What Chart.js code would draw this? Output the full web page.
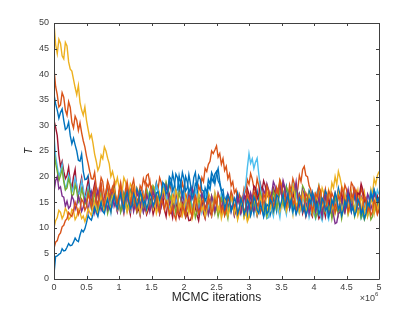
<!DOCTYPE html>
<html>
<head>
<meta charset="utf-8">
<script src="https://cdn.jsdelivr.net/npm/chart.js@4"></script>
<style>
  html, body { margin: 0; padding: 0; background: #fff; }
  #traceChart { display: block; }
</style>
</head>
<body>
<canvas id="traceChart" width="419" height="314"></canvas>
<script>
// iterations run 0 .. 5 (x10^6), one stored sample every 0.025
var xMax = 5;
var xTicks = [0, 0.5, 1, 1.5, 2, 2.5, 3, 3.5, 4, 4.5, 5];
var yTicks = [0, 5, 10, 15, 20, 25, 30, 35, 40, 45, 50];

// ten chains, values (20 samples per 0.5)
var chain1 = [1, 4.4, 4.5, 4.8, 5, 5.9, 5.5, 5.6, 6.2, 6.9, 6.5, 6.6, 7.2, 8, 7.5, 7.3, 8.6, 9.6, 9.2, 9.8,
  11, 12.4, 11.8, 11.5, 12.6, 14, 13, 12.2, 13.8, 15, 13.2, 12.8, 14.5, 15.6, 14, 13.2, 15.2, 16.3, 14.6, 13.8,
  15.5, 16.8, 14.8, 13.6, 16, 17, 15.2, 13.8, 14.4, 16.6, 15.8, 14.2, 15, 17.2, 16.2, 14.5, 15.4, 13.6, 14.8, 16.8,
  16, 14.2, 15.2, 16.8, 17, 15.5, 16.4, 18.8, 18.5, 16.6, 17.2, 20, 19.5, 17.2, 18, 20.5, 19.8, 17.5, 18.6, 16.2,
  17.5, 20, 19, 16.8, 17.8, 15.6, 16.5, 18.6, 18, 20.2, 19.5, 17.4, 17.2, 15.2, 16, 18.2, 17.5, 19.8, 19, 20.5,
  21, 19.2, 18.5, 17.2, 16, 13.8, 14.8, 16.4, 15.5, 13.2, 14.2, 15.8, 15, 12.8, 13.8, 15.6, 14.6, 12.6, 13.5, 15.4,
  14.8, 12.4, 13.6, 16, 15.2, 13.4, 12.8, 14.8, 13.5, 12.2, 14.6, 12.8, 13.2, 15.6, 15, 13.2, 14.2, 16.4, 16, 14,
  15.2, 16.6, 14, 15.4, 16.5, 14.2, 15.5, 13.2, 14.2, 12.6, 13.6, 15.8, 15, 13.2, 14.4, 12.4, 13.5, 15.6, 14.8, 17,
  16, 13.8, 14.8, 12.6, 13.6, 15.8, 15.2, 13.4, 14, 12.2, 13.2, 15.4, 14.6, 16.8, 15.8, 13.6, 14.4, 12.4, 13.5, 15.2,
  14.2, 16.4, 15.5, 13.2, 14, 12.4, 13.2, 15.6, 14.8, 12.6, 13.8, 11.8, 12.8, 15, 14.2, 16.8, 15.6, 17.4, 16.5, 15,
  16];
var chain2 = [6, 7.2, 7.5, 8.6, 9, 10.2, 10.5, 11.4, 11.8, 13, 12.5, 12.2, 13.4, 15, 14, 12.6, 13.5, 15.6, 15, 13.4,
  14.2, 16.6, 15.5, 14, 16.5, 17.8, 15, 14.2, 16.8, 18.2, 15.5, 14.4, 17.2, 18.5, 16, 17, 18, 16.8, 15.8, 14.4,
  17, 18.4, 15.5, 14.2, 16.8, 18, 15, 13.8, 16.5, 17.6, 14.5, 13.4, 15.8, 17.2, 17.5, 15.4, 16.2, 18.6, 18, 19.2,
  16.5, 14.2, 15, 16.4, 14.2, 13, 15.8, 14.6, 13.5, 15.2, 14.5, 12.6, 13, 14.2, 12.5, 11.6, 13.8, 12.6, 12.2, 14.4,
  13.5, 12.4, 14.8, 15.8, 13.2, 12.2, 15, 16.2, 14.2, 12.8, 13.5, 15, 15.5, 13.6, 14, 16, 15, 12.8, 13.8, 15.6,
  14.5, 16.6, 15.8, 13.2, 14.2, 12.4, 13.5, 15.8, 15, 17.2, 16.2, 14, 14.8, 12.6, 13.6, 16, 15.2, 13, 14, 16.8,
  15.5, 13.4, 14.2, 17, 16.5, 14.2, 15, 13, 14, 16.6, 15.8, 18.2, 17.2, 15.2, 16, 14, 15, 17.6, 16.8, 19.2,
  18, 16, 16.5, 14.2, 15.2, 17.6, 16.8, 14.6, 15.5, 13.2, 14.2, 16.4, 15.8, 13.4, 14.5, 16.8, 16, 14, 15.2, 13.2,
  14.5, 16.6, 16, 18, 17.2, 14.8, 15.5, 13.6, 14.8, 17.2, 16.5, 14.2, 15.2, 13, 14, 16.2, 15.5, 17.8, 16.8, 14.8,
  15.5, 13.2, 14.2, 16.6, 15.8, 17.6, 16.8, 14.4, 15, 13, 14, 16.2, 15.5, 13.2, 14.2, 12.4, 13.2, 15.4, 14.5, 12.6,
  13.5];
var chain3 = [10, 11.4, 12, 13.4, 13, 11.8, 12.5, 13.8, 13.2, 11.6, 12, 13.6, 13.3, 11.6, 12.2, 13.6, 13, 11.8, 12.3, 11.2,
  12.2, 13.8, 13, 12.4, 14, 15.2, 13.5, 12.6, 14.8, 16, 14, 13.2, 15.5, 16.6, 14.6, 13.4, 16, 17.2, 15, 13.6,
  14.8, 17, 16.2, 14, 15, 13, 14.2, 16.6, 15.8, 18, 16.8, 14.6, 15, 12.8, 14, 16.4, 15.5, 13.2, 14.6, 17.2,
  16, 13.8, 15.2, 12.8, 14, 16.8, 15.5, 17.8, 16.8, 14.4, 15.2, 12.6, 14, 16.2, 15, 17.4, 16.2, 13.6, 14.8, 12.4,
  13.5, 15.8, 15, 12.8, 14.2, 11.8, 13, 15.4, 14.5, 16.8, 15.8, 13.4, 14.2, 12.2, 13.5, 15.8, 15, 12.6, 14, 16.4,
  15.5, 13.2, 14.2, 11.8, 13.2, 15.4, 14.8, 12.4, 13.5, 16, 15, 12.8, 14.2, 11.6, 13, 15.2, 14.5, 12, 13.2, 11.2,
  12, 14.2, 13.5, 15.8, 14.8, 12.6, 13.5, 16, 15, 12.8, 14, 17.2, 16, 13.6, 15, 13, 14.2, 16.8, 15.5, 13.2,
  14.5, 17, 15.8, 13.2, 14.2, 16.6, 15.5, 18.2, 16.8, 14.2, 15, 13, 14.2, 16.8, 15.5, 13.2, 14, 16.4, 15.2, 12.8,
  14, 16.6, 15.5, 18.2, 16.8, 14.2, 15.2, 13.2, 14.5, 17, 16, 13.6, 15, 12.8, 14, 16.8, 15.5, 13, 14.2, 16.6,
  15, 12.8, 14, 16.6, 15.6, 13.2, 14.5, 12.4, 13.8, 16, 15.2, 13, 14.5, 12.2, 13.6, 15.8, 14.8, 12.8, 15.5, 13.2,
  14.8];
var chain4 = [17, 19.2, 20, 17.6, 18, 16.2, 16, 14.2, 15.2, 13.8, 14.2, 16.2, 15.5, 13.6, 14.5, 16.2, 15.2, 13.2, 14, 15.8,
  14.8, 13.2, 15.6, 17, 14.5, 13, 16.2, 17.4, 15, 13.4, 14.2, 16.2, 15.8, 13.6, 14.8, 17.2, 16.5, 14.2, 15.2, 13.2,
  14.5, 16.8, 15.8, 13.4, 14.8, 17.2, 16.2, 14.2, 15.4, 13.2, 14.6, 16.8, 16, 13.8, 15.2, 13, 14, 16.4, 15.5, 13.2,
  14.6, 17.2, 16, 13.8, 15, 12.8, 14.2, 16.6, 15.8, 18.2, 16.8, 14.6, 15.2, 13, 14.4, 16.8, 15.6, 13.4, 14.8, 16.8,
  15.2, 13.2, 14.2, 16.6, 15.6, 17.6, 16.5, 14.2, 15, 12.8, 14.2, 16.8, 15.6, 13.4, 14.8, 12.6, 13.8, 16.2, 15.2, 13.2,
  14.5, 16.8, 15.8, 13.6, 15, 12.8, 14.2, 16.6, 15.5, 13.2, 14.8, 12.4, 13.6, 16, 15, 13, 14.2, 16.4, 15.5, 13.4,
  14.8, 16.8, 15.6, 13.4, 14.2, 12.4, 13.5, 15.8, 15, 17.4, 16.5, 18.6, 17.5, 15.6, 16.8, 19, 18.2, 16, 17, 18.8,
  16.5, 19.2, 18, 15.4, 16.2, 14, 15.5, 17.8, 17, 19, 16, 13.8, 15.2, 17.4, 16.5, 14.2, 15, 12.8, 14.2, 16.4,
  15.5, 13.2, 14.5, 16, 13.8, 12.2, 15, 16.2, 14.2, 12.6, 13.2, 14.4, 12.5, 10.8, 11, 12.8, 13, 15.6, 14.5, 13.2,
  15.8, 17.4, 14.5, 13.2, 16.5, 17.6, 15.2, 13.4, 14, 16.2, 15.5, 13.2, 14.2, 16.6, 15.8, 13.6, 14.8, 16.8, 15.5, 13.6,
  14.5];
var chain5 = [25, 22.6, 21, 19.2, 20.2, 21.4, 19, 17.4, 17.8, 19.6, 18.5, 16.2, 16.5, 18.4, 17.2, 15, 15.5, 17.6, 16.4, 14.6,
  15.2, 17.2, 16, 13.8, 14.8, 16.8, 15.6, 13.4, 14.5, 16.6, 15.8, 13.6, 15, 12.8, 14.2, 16.4, 15.5, 17.6, 16.2, 13.8,
  15, 13, 14.2, 16.6, 15.6, 13.6, 14.8, 17, 16, 13.8, 15.2, 13.2, 14.4, 16.8, 15.8, 13.4, 15, 17.4, 16.2, 14.2,
  15.5, 18, 17, 14.8, 16, 13.8, 15.2, 17.6, 16.5, 18.8, 17.5, 15.2, 16.2, 14, 15, 12.8, 14.2, 16.8, 15.6, 13.4,
  14.5, 12.4, 13.8, 16, 15, 13, 14.2, 12, 13.2, 15.8, 14.6, 16.8, 15.5, 13.2, 14.8, 12.6, 13.8, 16.2, 15, 12.8,
  14.2, 12.2, 13.5, 15.8, 14.8, 12.4, 13.2, 11.8, 14.5, 16.4, 15.2, 12.8, 14, 11.8, 13.2, 15.4, 14.4, 12.2, 13.5, 15.6,
  14.2, 12.6, 15, 16.6, 13.8, 12.4, 14.6, 16.8, 15.5, 13.2, 14.2, 12.2, 13.5, 15.8, 14.8, 17.2, 16, 13.8, 15.2, 17.6,
  16.5, 14.2, 15.5, 18, 17.2, 14.8, 16, 13.8, 15.2, 18, 16.8, 14.6, 15.5, 18.2, 17.5, 15, 16.2, 13.8, 15, 12.8,
  14.2, 12, 13, 15.2, 14.5, 12.2, 13.6, 16, 15, 12.8, 14.2, 11.8, 13.8, 16.2, 15, 12.6, 14.4, 11.8, 13.5, 15.8,
  14.8, 12.6, 13.8, 15.8, 14.5, 12.2, 13.5, 15.4, 14.2, 12, 13, 11.6, 12.5, 14.8, 13.8, 11.6, 12.2, 14.6, 13.5, 15.2,
  14];
var chain6 = [28, 24, 22, 20, 21, 22.4, 19.5, 17.6, 18.5, 20.4, 19.2, 17, 17.8, 19.8, 18.5, 16.4, 17, 19.2, 17.8, 15.6,
  16.5, 18, 15.5, 13.8, 16.2, 17.4, 14.8, 13.2, 15.6, 16.8, 14.6, 13, 15.4, 17, 14.2, 12.8, 15.5, 17, 14.8, 13.4,
  15.8, 17.2, 15, 13.2, 14.2, 16.4, 15.5, 13.4, 14.8, 17, 16, 13.8, 15.2, 13, 14.4, 16.8, 15.6, 17.8, 16.5, 14.2,
  15.2, 17.6, 16.2, 18.4, 17.2, 15, 16, 18.8, 17.8, 15.4, 16.5, 14, 15.5, 18.2, 17, 14.8, 16.2, 18.6, 17.5, 15.6,
  16.8, 14.2, 15.5, 17.6, 16.2, 13.8, 15, 17.4, 16.5, 13.6, 15.2, 13, 14.5, 16.8, 15.8, 13.6, 15, 12.8, 14.2, 16.4,
  15, 13, 14.4, 16.8, 15.5, 13.2, 14.8, 12.6, 14, 16.2, 15.2, 13, 14.5, 12.2, 13.6, 15.8, 15, 16.8, 18.5, 21.8,
  24.5, 22.6, 23.5, 21.6, 22.8, 23.6, 20.5, 18, 15.5, 14, 13.2, 11.8, 12, 14.2, 13.5, 12.2, 14.2, 15.6, 13.5, 12,
  14.8, 16.6, 14, 12.6, 15.2, 16.8, 14.2, 12.8, 15.5, 17.2, 14.6, 12.8, 13.8, 16, 15, 13, 14.2, 12, 13.2, 14.8,
  12.8, 11.8, 13.5, 14.6, 12.2, 11.4, 13.2, 14.6, 12.5, 11.6, 14, 15.6, 14.8, 13, 14.2, 16.4, 15.5, 13.4, 14.6, 16.6,
  15.2, 13.2, 14.2, 16.6, 15.5, 13.4, 14.8, 12.6, 13.6, 11.8, 12.5, 14.6, 14, 16.4, 15.5, 17.2, 16.2, 14.6, 15.8, 17.4,
  16.5];
var chain7 = [31, 29.6, 28, 24.2, 22, 23, 21, 19.6, 20.2, 21.8, 19, 17.6, 20, 21.4, 17.5, 16.4, 18.2, 19.8, 16.8, 15.4,
  17.5, 19.2, 16.2, 14.8, 17, 18.6, 15.8, 14.2, 16.5, 18.2, 15.2, 13.8, 16, 17.6, 14.8, 13.2, 15.6, 17.4, 14.5, 13.2,
  15.2, 16.8, 14.4, 12.8, 15, 16.6, 14.2, 12.6, 15.5, 17, 14.6, 13, 13.8, 12.4, 15, 16.6, 14.2, 12.6, 13.5, 15.8,
  14.6, 12.6, 13.8, 16, 15, 12.8, 14.2, 16.2, 13.5, 12.2, 14.8, 16.4, 13.6, 12, 14.5, 15.8, 13.2, 12, 14.2, 15.4,
  13.5, 12, 12.8, 11.4, 11.5, 12.6, 13, 14.2, 12.5, 11.4, 13.6, 15, 12.8, 11.8, 14, 15.2, 13.2, 12.2, 13.8, 15.4,
  14.5, 12.8, 13.6, 15.8, 14.8, 13, 14, 16.4, 15.5, 13.6, 14.5, 12.4, 13.5, 16, 15, 13, 14.2, 16.6, 15.5, 17.6,
  16.5, 14.4, 15.2, 18.2, 17.8, 15.6, 16.5, 18.6, 17.2, 19.2, 18.2, 16, 16.8, 14.6, 15.5, 17.8, 16.8, 14.4, 15.5, 17.6,
  16.5, 18.8, 17.5, 15.2, 16, 13.8, 14.8, 16.8, 15.5, 13, 14.2, 16.4, 15.2, 12.8, 14, 12.2, 13.5, 14.8, 13, 12.2,
  14.2, 15.6, 13.2, 11.8, 12.5, 14.4, 13.8, 12.2, 14.5, 16.2, 13.5, 12.4, 15, 16.6, 14.2, 12.8, 15.5, 17, 14.5, 13.2,
  15.2, 17.2, 16.2, 14, 15, 13.2, 14.2, 16.8, 16.5, 18.6, 17.5, 15.2, 15.8, 13.6, 14.8, 16.6, 15.5, 13.2, 14.5, 16.2,
  15];
var chain8 = [36, 34.2, 33, 31.4, 32.5, 33.2, 31, 29.2, 29.5, 30.6, 28, 26.4, 27.5, 26.2, 25, 23.2, 23, 24.4, 21, 19.4,
  19.5, 20.2, 17.5, 16.4, 16.8, 17.8, 15.2, 13.6, 14.2, 15.8, 15, 13.2, 14.2, 16.4, 15.5, 13.4, 14.6, 17, 16, 13.8,
  15.2, 13.2, 14.4, 16.8, 15.6, 13.4, 14.8, 17.2, 16, 13.8, 15.2, 17.6, 16.5, 14.2, 15.5, 13.2, 14.6, 16.8, 15.8, 13.6,
  15.2, 17.6, 16.4, 18.6, 17, 15.2, 16, 18.6, 17.5, 15.6, 16.5, 19.4, 18.2, 20.6, 19, 17, 17.5, 20.2, 18.5, 20.8,
  19.5, 17.2, 17.8, 20.4, 18.5, 16.8, 19.8, 20.8, 17.5, 15.6, 16.2, 14.2, 15.5, 17.8, 16.8, 19.4, 18.5, 20.8, 20, 18.6,
  20.5, 21.6, 19, 17.2, 17.5, 15, 16, 13.8, 15.2, 16.6, 14.5, 12.8, 15.5, 16.8, 14.8, 13, 15.6, 16.8, 14.2, 12.4,
  15, 16.4, 14.5, 12.8, 16, 17.2, 15.2, 13.2, 14, 12.2, 13.2, 14.6, 14.2, 12.4, 13.5, 15.8, 14.8, 13.2, 15.6, 17.4,
  17, 15, 16.2, 18, 15.5, 13.8, 16.8, 18.2, 15.8, 13.6, 14.6, 16.6, 15.5, 13.2, 14.2, 12.8, 15, 17.2, 16.2, 14,
  15.5, 13.8, 17, 18.2, 16.2, 14.2, 15, 17.2, 16.5, 14.2, 15.5, 13, 14.2, 16.4, 15.5, 17.8, 16.5, 14, 15.2, 13.2,
  14.5, 16.6, 15.6, 13.2, 14.4, 16.4, 15.2, 13, 14, 12.2, 13.2, 15.6, 14.5, 12.4, 13.8, 16.2, 15, 17.4, 16, 14.2,
  15.5];
var chain9 = [41, 37.6, 36, 33.6, 34, 36.4, 35.5, 33, 32, 34.6, 33.5, 30.6, 29.5, 31.8, 31, 29, 30.5, 28.6, 27, 25.8,
  24, 22.6, 21, 19.6, 19.5, 20.8, 18, 16.2, 17.5, 19.8, 19, 16.2, 16.8, 19.2, 18.2, 16, 17, 18.8, 16, 14.8,
  17.2, 18.8, 16.2, 14.8, 17.5, 19, 16.8, 15, 18.2, 19.4, 17, 15.2, 15.8, 18.2, 17.5, 19.6, 18.5, 20.2, 20.5, 18.6,
  18, 15.6, 16.5, 18.8, 17.5, 19.8, 18.8, 16.4, 17.2, 15, 16.2, 18.6, 17.5, 15.2, 16.8, 14.2, 15, 17.6, 16.8, 18.8,
  17.5, 15.2, 16.5, 14, 15.5, 17.8, 16.8, 14.8, 16, 18.2, 17.2, 19.8, 19, 21.6, 21, 22.4, 23, 25, 24.5, 25.2,
  26, 23.8, 24.5, 22.4, 23.5, 21.2, 22, 19.6, 20.5, 18.2, 19, 16.8, 17.5, 15.4, 16.5, 14.6, 15.5, 17.8, 17, 19.4,
  18.5, 20.6, 19.5, 17.8, 17, 19.6, 18.2, 16, 16.5, 14.2, 15.8, 18.2, 17.2, 14.8, 16.2, 13.8, 15.2, 17.8, 16.5, 18.6,
  17.8, 15.4, 16.5, 14.2, 15.8, 18.4, 17.2, 19.6, 18.5, 16.2, 17.5, 20.2, 19, 21.4, 22, 20.2, 20, 18.2, 17.5, 15.4,
  16.5, 14.2, 15.5, 17.4, 14.8, 13.2, 16.2, 17.6, 15.2, 13.4, 14.5, 16.8, 16, 13.8, 15.2, 17.2, 14.6, 13.2, 16.2, 18.4,
  17.5, 15.2, 16.5, 18.8, 18.2, 15.8, 17, 14.6, 15.8, 17.8, 16.5, 14.2, 15.2, 13, 14.2, 16.2, 15, 13.2, 14.5, 12.8,
  13.8];
var chain10 = [50, 45.8, 44, 46.8, 46, 43.6, 43, 46.2, 45.5, 42.4, 41, 40.6, 39, 37.4, 36, 37.8, 34.5, 33, 32, 33.6,
  31, 29.2, 27.5, 28.2, 26.5, 24.4, 23, 21.2, 22, 24.2, 23.5, 25.8, 25, 23.6, 22.5, 20, 21, 19.6, 18.5, 19.8,
  18, 16.2, 17.2, 19.8, 19, 17.2, 16.5, 18.6, 18, 15.2, 15.8, 17.8, 17, 14.8, 16.2, 14.2, 15.2, 17.4, 16.5, 14.2,
  15.5, 18.2, 17.8, 15.6, 16.2, 13.8, 15, 17.4, 16.8, 18.8, 17.5, 14.8, 15.8, 13.2, 14.8, 17.2, 16.5, 14, 15.2, 12.8,
  14.5, 16.6, 15.8, 13.6, 14.6, 17, 16.2, 13.8, 15.2, 13, 14.2, 16.4, 15.5, 13.2, 14.6, 16.8, 16, 13.8, 14.8, 17,
  15.8, 13.6, 14.5, 12.4, 13.5, 15.6, 14.8, 12.6, 14, 16.2, 15.5, 13, 14.2, 12.2, 13.5, 15.6, 14.5, 12.2, 13.2, 11.6,
  12.2, 13.8, 14, 16.4, 15.2, 13, 14.2, 16.8, 16, 13.6, 15, 12.8, 14.5, 17, 16.2, 14, 15.2, 17.8, 17.5, 19.4,
  18.5, 16.6, 16.2, 13.8, 15.5, 17.2, 14.5, 12.6, 16, 17.8, 15, 13, 14.2, 16.6, 15.5, 13.2, 14.8, 17.2, 16.5, 14.2,
  15.2, 13, 14.2, 16.6, 15.5, 17.8, 16.8, 14.6, 15, 17.4, 16.2, 18.8, 17.8, 20, 18.5, 21, 19.8, 18.2, 17.5, 15.4,
  16, 13.8, 15.2, 17, 14.5, 12.8, 15.8, 17.4, 14.8, 13.2, 15.5, 17, 14.2, 12.8, 15, 17.6, 16.5, 19.6, 18.5, 20.2,
  21];

var chains = [chain1, chain2, chain3, chain4, chain5, chain6, chain7, chain8, chain9, chain10];
var chainColors = ["#0072BD", "#D95319", "#EDB120", "#7E2F8E", "#77AC30",
                   "#4DBEEE", "#A2142F", "#0072BD", "#D95319", "#EDB120"];

var axisColor = "#404040";
var fontFam = "'Liberation Sans', Arial, Helvetica, sans-serif";

// inside tick marks on all four sides, the box, and the axis texts
var matlabAxes = {
  id: "matlabAxes",
  afterDraw: function (chart) {
    var c = chart.ctx, a = chart.chartArea;
    var xs = chart.scales.x, ys = chart.scales.y;
    c.save();
    c.strokeStyle = axisColor;
    c.lineWidth = 1;
    c.beginPath();
    c.rect(Math.round(a.left) + 0.5, Math.round(a.top) + 0.5,
           Math.round(a.right - a.left), Math.round(a.bottom - a.top));
    xTicks.forEach(function (v) {
      var px = Math.round(xs.getPixelForValue(v)) + 0.5;
      c.moveTo(px, a.bottom); c.lineTo(px, a.bottom - 3);
      c.moveTo(px, a.top); c.lineTo(px, a.top + 3);
    });
    yTicks.forEach(function (v) {
      var py = Math.round(ys.getPixelForValue(v)) + 0.5;
      c.moveTo(a.left, py); c.lineTo(a.left + 3, py);
      c.moveTo(a.right, py); c.lineTo(a.right - 3, py);
    });
    c.stroke();

    c.fillStyle = "#262626";
    c.font = "12px " + fontFam;
    c.textAlign = "center";
    c.textBaseline = "middle";
    c.fillText("MCMC iterations", (a.left + a.right) / 2, 298);

    c.fillStyle = axisColor;
    c.font = "9px " + fontFam;
    c.textAlign = "right";
    c.textBaseline = "alphabetic";
    c.fillText("\u00d710", a.right - 4, 301);
    c.font = "6px " + fontFam;
    c.textAlign = "left";
    c.fillText("6", a.right - 4, 296);

    c.translate(29, (a.top + a.bottom) / 2);
    c.rotate(-Math.PI / 2);
    c.font = "italic 10px " + fontFam;
    c.textAlign = "center";
    c.textBaseline = "middle";
    c.fillStyle = "#262626";
    c.fillText("T", 0, 0);
    c.restore();
  }
};

var datasets = chains.map(function (vals, k) {
  return {
    label: "chain " + (k + 1),
    data: vals.map(function (v, i) { return { x: i * xMax / (vals.length - 1), y: v }; }),
    borderColor: chainColors[k],
    borderWidth: 1.4,
    pointRadius: 0,
    tension: 0,
    fill: false
  };
});

var traceChart = new Chart(document.getElementById("traceChart"), {
  type: "line",
  data: { datasets: datasets },
  options: {
    responsive: false,
    animation: false,
    devicePixelRatio: 1,
    layout: { padding: { left: 0, right: 40, top: 23, bottom: 0 } },
    plugins: { legend: { display: false }, tooltip: { enabled: false } },
    scales: {
      x: {
        type: "linear", min: 0, max: xMax,
        afterFit: function (s) { s.height = 35; },
        afterBuildTicks: function (s) { s.ticks = xTicks.map(function (v) { return { value: v }; }); },
        grid: { display: false, drawTicks: false },
        border: { display: false },
        ticks: { padding: 3, maxRotation: 0, autoSkip: false, color: axisColor,
                 font: { family: fontFam, size: 9 },
                 callback: function (v) { return String(v); } }
      },
      y: {
        min: 0, max: 50,
        afterFit: function (s) { s.width = 54; },
        afterBuildTicks: function (s) { s.ticks = yTicks.map(function (v) { return { value: v }; }); },
        grid: { display: false, drawTicks: false },
        border: { display: false },
        ticks: { padding: 5, autoSkip: false, color: axisColor,
                 font: { family: fontFam, size: 9 },
                 callback: function (v) { return String(v); } }
      }
    }
  },
  plugins: [matlabAxes]
});
</script>
</body>
</html>
